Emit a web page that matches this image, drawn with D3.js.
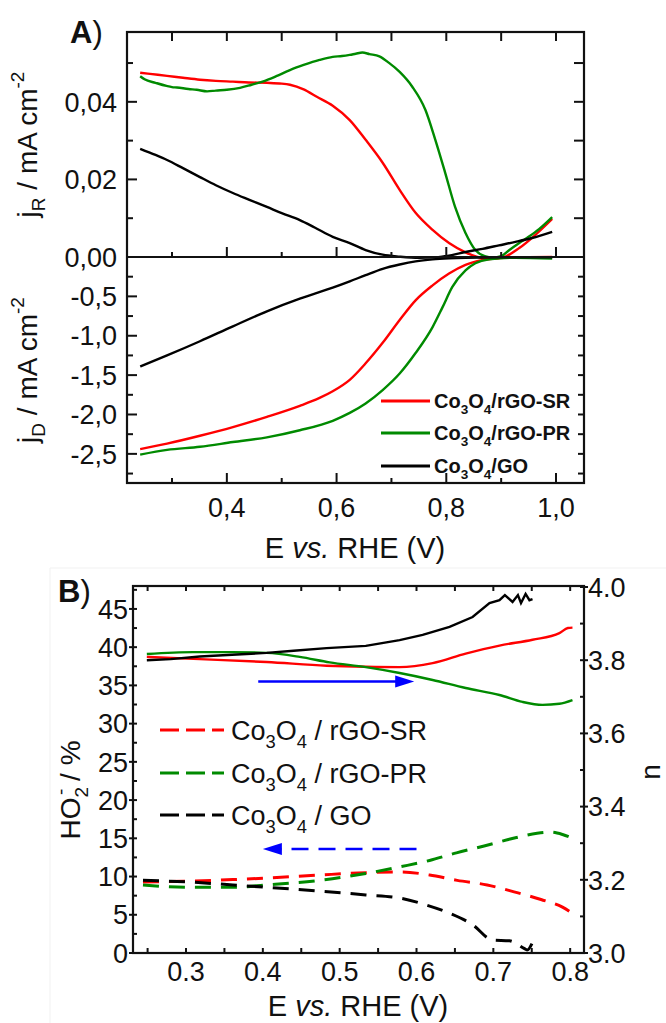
<!DOCTYPE html>
<html><head><meta charset="utf-8">
<script src="https://cdn.jsdelivr.net/npm/d3@7/dist/d3.min.js"></script>
<style>
html,body{margin:0;padding:0;background:#fff;}
svg text{font-family:"Liberation Sans",Arial,sans-serif;fill:#111;}
</style></head>
<body>
<svg id="chart" width="666" height="1023"></svg>
<script>
// ---------- DATA ----------
// Panel A: ring current jR (mA cm^-2) vs E (V)
const jR_SR = [[0.242,0.0475],[0.26,0.0472],[0.291,0.0467],[0.32,0.0462],[0.351,0.0457],[0.38,0.0454],[0.411,0.0452],[0.44,0.0450],[0.473,0.0449],[0.50,0.0447],[0.515,0.0444],[0.54,0.0432],[0.564,0.0413],[0.593,0.0390],[0.624,0.0353],[0.653,0.0302],[0.684,0.0243],[0.715,0.0173],[0.744,0.0114],[0.775,0.0070],[0.805,0.0036],[0.835,0.0012],[0.855,0.0001],[0.878,-0.0005],[0.905,0.0000],[0.933,0.0023],[0.96,0.0054],[0.993,0.0098]];
const jR_PR = [[0.242,0.0466],[0.25,0.0458],[0.27,0.0449],[0.29,0.0441],[0.30,0.0438],[0.309,0.0437],[0.33,0.0433],[0.345,0.0431],[0.364,0.0427],[0.38,0.0429],[0.40,0.0431],[0.424,0.0436],[0.445,0.0444],[0.465,0.0452],[0.49,0.0466],[0.515,0.0482],[0.54,0.0495],[0.569,0.0508],[0.593,0.0516],[0.61,0.0518],[0.624,0.0521],[0.635,0.0524],[0.647,0.0527],[0.66,0.0523],[0.678,0.0517],[0.695,0.0501],[0.715,0.0477],[0.738,0.0439],[0.762,0.0379],[0.78,0.0302],[0.798,0.0217],[0.816,0.0129],[0.835,0.0062],[0.853,0.0018],[0.870,0.0002],[0.885,-0.0002],[0.90,0.0002],[0.915,0.0018],[0.933,0.0036],[0.95,0.0052],[0.969,0.0072],[0.993,0.0103]];
const jR_GO = [[0.242,0.0279],[0.27,0.0263],[0.291,0.0250],[0.32,0.0229],[0.351,0.0206],[0.38,0.0185],[0.411,0.0165],[0.44,0.0148],[0.473,0.0129],[0.50,0.0113],[0.533,0.0095],[0.56,0.0076],[0.593,0.0052],[0.624,0.0036],[0.653,0.0018],[0.684,0.0006],[0.715,0.0001],[0.75,-0.0002],[0.78,-0.0001],[0.81,0.0005],[0.835,0.0013],[0.866,0.0021],[0.896,0.0030],[0.926,0.0039],[0.956,0.0049],[0.993,0.0065]];
// Panel A: disk current jD (mA cm^-2) vs E (V)
const jD_SR = [[0.242,-2.44],[0.291,-2.37],[0.351,-2.27],[0.411,-2.16],[0.473,-2.03],[0.533,-1.89],[0.569,-1.79],[0.593,-1.705],[0.624,-1.56],[0.653,-1.35],[0.684,-1.09],[0.715,-0.80],[0.744,-0.55],[0.775,-0.36],[0.805,-0.21],[0.835,-0.10],[0.865,-0.04],[0.896,-0.012],[0.95,-0.003],[0.993,0]];
const jD_PR = [[0.242,-2.51],[0.291,-2.45],[0.351,-2.41],[0.411,-2.35],[0.473,-2.29],[0.533,-2.20],[0.593,-2.08],[0.624,-1.98],[0.653,-1.86],[0.684,-1.69],[0.715,-1.48],[0.744,-1.22],[0.775,-0.89],[0.793,-0.64],[0.811,-0.38],[0.835,-0.17],[0.853,-0.08],[0.878,-0.03],[0.925,-0.01],[0.993,-0.02]];
const jD_GO = [[0.242,-1.39],[0.291,-1.25],[0.351,-1.07],[0.411,-0.88],[0.473,-0.69],[0.533,-0.53],[0.593,-0.39],[0.624,-0.31],[0.653,-0.23],[0.684,-0.15],[0.715,-0.095],[0.744,-0.055],[0.775,-0.03],[0.805,-0.017],[0.835,-0.01],[0.9,-0.005],[0.993,-0.003]];
// Panel B: electron number n (right axis)
const n_SR = [[0.249,3.809],[0.318,3.803],[0.405,3.795],[0.483,3.785],[0.534,3.782],[0.578,3.781],[0.621,3.792],[0.664,3.818],[0.708,3.840],[0.751,3.856],[0.786,3.874],[0.797,3.888],[0.803,3.889]];
const n_PR = [[0.249,3.817],[0.309,3.822],[0.36,3.822],[0.405,3.820],[0.448,3.809],[0.487,3.794],[0.534,3.781],[0.578,3.765],[0.621,3.746],[0.664,3.724],[0.708,3.705],[0.738,3.686],[0.764,3.678],[0.786,3.681],[0.803,3.691]];
const n_GO = [[0.249,3.800],[0.28,3.803],[0.318,3.810],[0.36,3.815],[0.405,3.820],[0.44,3.826],[0.483,3.833],[0.534,3.839],[0.578,3.855],[0.608,3.869],[0.643,3.891],[0.673,3.918],[0.695,3.956],[0.708,3.964],[0.715,3.978],[0.725,3.959],[0.732,3.978],[0.736,3.956],[0.742,3.981],[0.747,3.964],[0.751,3.967]];
// Panel B: HO2- percentage (left axis)
const p_SR = [[0.244,9.3],[0.301,9.4],[0.361,9.6],[0.405,9.8],[0.474,10.2],[0.534,10.5],[0.58,10.6],[0.617,10.2],[0.653,9.5],[0.692,8.9],[0.727,8.0],[0.762,7.0],[0.79,6.0],[0.803,5.2]];
const p_PR = [[0.244,8.9],[0.301,8.6],[0.361,8.6],[0.405,8.9],[0.474,9.5],[0.534,10.4],[0.58,11.3],[0.617,12.1],[0.652,13.1],[0.688,14.0],[0.722,14.9],[0.757,15.65],[0.775,15.8],[0.79,15.5],[0.803,15.0]];
const p_GO = [[0.244,9.5],[0.301,9.3],[0.361,8.9],[0.405,8.6],[0.474,8.1],[0.534,7.6],[0.578,7.2],[0.612,6.3],[0.643,5.2],[0.673,3.7],[0.699,1.7],[0.721,1.6],[0.74,0.6],[0.744,0.4],[0.751,1.4]];

// Tick values / labels
const xTicksA = [0.3,0.4,0.5,0.6,0.7,0.8,0.9,1.0];
const xLabelsA = ["0,4","0,6","0,8","1,0"];
const jRTicks = [0,0.01,0.02,0.03,0.04,0.05];
const jRLabels = ["0,00","0,02","0,04"];
const jDTicks = [-2.75,-2.5,-2.25,-2.0,-1.75,-1.5,-1.25,-1.0,-0.75,-0.5,-0.25];
const jDLabels = ["-0,5","-1,0","-1,5","-2,0","-2,5"];
const xTicksB = [0.25,0.3,0.35,0.4,0.45,0.5,0.55,0.6,0.65,0.7,0.75,0.8];
const xLabelsB = ["0.3","0.4","0.5","0.6","0.7","0.8"];
const pTicks = [0,2.5,5,7.5,10,12.5,15,17.5,20,22.5,25,27.5,30,32.5,35,37.5,40,42.5,45,47.5];
const pLabels = ["0","5","10","15","20","25","30","35","40","45"];
const nTicks = [3.0,3.1,3.2,3.3,3.4,3.5,3.6,3.7,3.8,3.9,4.0];
const nLabels = ["3.0","3.2","3.4","3.6","3.8","4.0"];
const legendNames = ["rGO-SR","rGO-PR","GO"];
const colors = {SR:"#ff0000", PR:"#008a00", GO:"#000000", arrow:"#0000ff"};

// ---------- SCALES ----------
const svg = d3.select("#chart");
const xA = d3.scaleLinear().domain([0.218,1.051]).range([127,584]);
const yR = d3.scaleLinear().domain([0,0.058]).range([257,32]);
const yD = d3.scaleLinear().domain([-2.87,0]).range([483,257]);
const xB = d3.scaleLinear().domain([0.231,0.818]).range([133,584]);
const yP = d3.scaleLinear().domain([0,48]).range([953,586]);
const yN = d3.scaleLinear().domain([3,4]).range([953,587]);

// light border of pasted panel B
svg.append("path").attr("d","M50,1023V568H666").attr("fill","none").attr("stroke","#f1f1f1").attr("stroke-width",1);

// ---------- helpers ----------
function richText(t, segs, size){
  let cur = 0;
  segs.forEach(([s,k,dx])=>{
    const sp = t.append("tspan").text(s);
    let want = 0;
    if(k==="sub"){ sp.attr("font-size",size*0.68); want = size*0.28; }
    else if(k==="sup"){ sp.attr("font-size",size*0.68); want = -size*0.45; }
    else { sp.attr("font-size",size); }
    if(k==="it") sp.attr("font-style","italic");
    sp.attr("dy", want-cur); cur = want;
    if(dx!==undefined) sp.attr("dx",dx);
  });
  return t;
}
function line(x,y,curve){ return d3.line().x(d=>x(d[0])).y(d=>y(d[1])).curve(curve||d3.curveMonotoneX); }

// ---------- PANEL A ----------
const gA = svg.append("g");
const axStroke = "#111";
function tickLine(g,x1,y1,x2,y2,w,c){ return g.append("line").attr("x1",x1).attr("y1",y1).attr("x2",x2).attr("y2",y2).attr("stroke",c||axStroke).attr("stroke-width",w||2); }

[[jR_SR,colors.SR],[jR_PR,colors.PR],[jR_GO,colors.GO]].forEach(([d,c])=>{
  gA.append("path").datum(d).attr("d",line(xA,yR)).attr("fill","none").attr("stroke",c).attr("stroke-width",2.4);
});
[[jD_SR,colors.SR],[jD_PR,colors.PR],[jD_GO,colors.GO]].forEach(([d,c])=>{
  gA.append("path").datum(d).attr("d",line(xA,yD)).attr("fill","none").attr("stroke",c).attr("stroke-width",2.4);
});

gA.append("rect").attr("x",xA.range()[0]).attr("y",yR.range()[1]).attr("width",xA.range()[1]-xA.range()[0]).attr("height",yD.range()[0]-yR.range()[1]).attr("fill","none").attr("stroke",axStroke).attr("stroke-width",2.2);
tickLine(gA,xA.range()[0],yR(0),xA.range()[1],yR(0),2.2);

xTicksA.forEach(v=>{
  const major = Math.round(v*10)%2===0;
  const X = xA(v);
  tickLine(gA,X,yR.range()[1],X,yR.range()[1]+9);
  tickLine(gA,X,yR(0),X,yR(0)-(major?10:5));
  tickLine(gA,X,yD.range()[0],X,yD.range()[0]-(major?10:5));
});
jRTicks.forEach(v=>{
  const major = Math.round(v*100)%2===0;
  tickLine(gA,xA.range()[0],yR(v),xA.range()[0]+(major?10:6),yR(v));
  if(v>0) tickLine(gA,xA.range()[1],yR(v),xA.range()[1]-10,yR(v));
});
jDTicks.forEach(v=>{
  const major = Math.abs(Math.round(v*100)%50)===0;
  tickLine(gA,xA.range()[0],yD(v),xA.range()[0]+(major?10:6),yD(v));
  tickLine(gA,xA.range()[1],yD(v),xA.range()[1]-6,yD(v));
});
const TS = 27;
jRLabels.forEach(l=>{
  const v = +l.replace(",",".");
  gA.append("text").attr("x",117).attr("y",yR(v)+TS*0.36).attr("text-anchor","end").attr("font-size",TS).text(l);
});
jDLabels.forEach(l=>{
  const v = +l.replace(",",".");
  gA.append("text").attr("x",117).attr("y",yD(v)+TS*0.36).attr("text-anchor","end").attr("font-size",TS).text(l);
});
xLabelsA.forEach(l=>{
  const v = +l.replace(",",".");
  gA.append("text").attr("x",xA(v)).attr("y",517).attr("text-anchor","middle").attr("font-size",TS).text(l);
});
const TT = 29;
const tA = gA.append("text").attr("x",355).attr("y",558).attr("text-anchor","middle");
richText(tA,[["E ","n"],["vs.","it"],[" RHE (V)","n"]],TT);
const tjR = gA.append("text").attr("transform",`translate(37,${(yR.range()[1]+yR(0))/2}) rotate(-90)`).attr("text-anchor","middle");
richText(tjR,[["j","n"],["R","sub"],[" / mA cm","n"],["-2","sup"]],28);
const tjD = gA.append("text").attr("transform",`translate(37,${(yD.range()[0]+yD(0))/2}) rotate(-90)`).attr("text-anchor","middle");
richText(tjD,[["j","n"],["D","sub"],[" / mA cm","n"],["-2","sup"]],28);
const la = gA.append("text").attr("x",70).attr("y",43).attr("font-size",31);
la.append("tspan").attr("font-weight","bold").text("A");
la.append("tspan").text(")");

const LS = 20;
[["SR",401],["PR",433],["GO",466]].forEach(([k,y],i)=>{
  tickLine(gA,381,y,430,y,3,colors[k]);
  const t = gA.append("text").attr("x",434).attr("y",y+7).attr("font-weight","bold");
  richText(t,[["Co","n"],["3","sub"],["O","n"],["4","sub"],["/"+legendNames[i],"n"]],LS);
});

// ---------- PANEL B ----------
const gB = svg.append("g");
[[n_SR,colors.SR],[n_PR,colors.PR]].forEach(([d,c])=>{
  gB.append("path").datum(d).attr("d",line(xB,yN)).attr("fill","none").attr("stroke",c).attr("stroke-width",2.4);
});
gB.append("path").datum(n_GO).attr("d",line(xB,yN,d3.curveLinear)).attr("fill","none").attr("stroke",colors.GO).attr("stroke-width",2.4);
[[p_SR,colors.SR],[p_PR,colors.PR],[p_GO,colors.GO]].forEach(([d,c])=>{
  gB.append("path").datum(d).attr("d",line(xB,yP)).attr("fill","none").attr("stroke",c).attr("stroke-width",3).attr("stroke-dasharray","16,10");
});
const arrowN = 3.742, arrowP = 13.6;
{
  const y = yN(arrowN), x0 = xB(0.394), x1 = xB(0.597);
  gB.append("line").attr("x1",x0).attr("y1",y).attr("x2",x1-14).attr("y2",y).attr("stroke",colors.arrow).attr("stroke-width",2.5);
  gB.append("path").attr("d",`M${x1},${y}L${x1-19},${y-6}L${x1-19},${y+6}Z`).attr("fill",colors.arrow);
  const yb = yP(arrowP), xb0 = xB(0.4), xb1 = xB(0.6);
  gB.append("line").attr("x1",xb1).attr("y1",yb).attr("x2",xb0+14).attr("y2",yb).attr("stroke",colors.arrow).attr("stroke-width",2.5).attr("stroke-dasharray","17,10");
  gB.append("path").attr("d",`M${xb0},${yb}L${xb0+19},${yb-6}L${xb0+19},${yb+6}Z`).attr("fill",colors.arrow);
}
gB.append("rect").attr("x",xB.range()[0]).attr("y",yP.range()[1]).attr("width",xB.range()[1]-xB.range()[0]).attr("height",yP.range()[0]-yP.range()[1]).attr("fill","none").attr("stroke",axStroke).attr("stroke-width",2.2);
xTicksB.forEach(v=>{
  const X = xB(v);
  tickLine(gB,X,yP.range()[0],X,yP.range()[0]-5);
  tickLine(gB,X,yP.range()[1],X,yP.range()[1]+5);
});
pTicks.forEach(v=>{
  if(v%5===0) tickLine(gB,xB.range()[0]-4,yP(v),xB.range()[0]+4,yP(v));
  else tickLine(gB,xB.range()[0],yP(v),xB.range()[0]+4,yP(v));
});
nTicks.forEach(v=>{
  if(Math.round(v*10)%2===0) tickLine(gB,xB.range()[1]-4,yN(v),xB.range()[1]+4,yN(v));
  else tickLine(gB,xB.range()[1]-4,yN(v),xB.range()[1],yN(v));
});
pLabels.forEach(l=>{
  gB.append("text").attr("x",128).attr("y",yP(+l)+TS*0.36).attr("text-anchor","end").attr("font-size",TS).text(l);
});
nLabels.forEach(l=>{
  gB.append("text").attr("x",588).attr("y",yN(+l)+TS*0.36).attr("text-anchor","start").attr("font-size",TS).text(l);
});
xLabelsB.forEach(l=>{
  gB.append("text").attr("x",xB(+l)).attr("y",981).attr("text-anchor","middle").attr("font-size",TS).text(l);
});
const tB = gB.append("text").attr("x",358).attr("y",1016).attr("text-anchor","middle");
richText(tB,[["E ","n"],["vs.","it"],[" RHE (V)","n"]],TT);
const tP = gB.append("text").attr("transform",`translate(80,790) rotate(-90)`).attr("text-anchor","middle");
richText(tP,[["HO","n"],["2","sub"],["-","sup",-8],[" / %","n"]],28);
gB.append("text").attr("transform",`translate(660,772) rotate(-90)`).attr("text-anchor","middle").attr("font-size",28).text("n");
const lb = gB.append("text").attr("x",58).attr("y",602).attr("font-size",31);
lb.append("tspan").attr("font-weight","bold").text("B");
lb.append("tspan").text(")");

[["SR",730],["PR",773],["GO",815]].forEach(([k,y],i)=>{
  gB.append("line").attr("x1",160).attr("y1",y).attr("x2",224).attr("y2",y).attr("stroke",colors[k]).attr("stroke-width",3).attr("stroke-dasharray","19,7");
  const t = gB.append("text").attr("x",231).attr("y",y+10);
  richText(t,[["Co","n"],["3","sub"],["O","n"],["4","sub"],[" / "+legendNames[i],"n"]],TS);
});
</script>
</body></html>
